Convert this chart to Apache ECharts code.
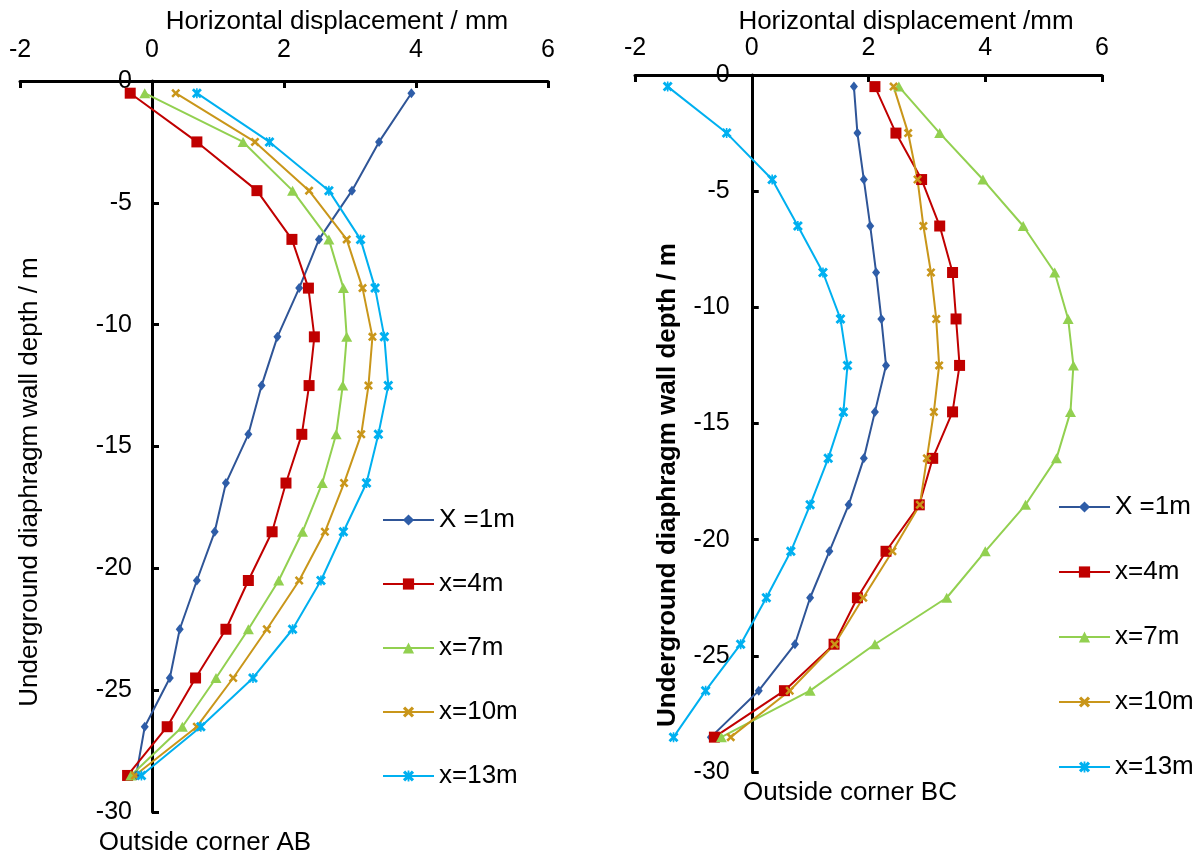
<!DOCTYPE html>
<html>
<head>
<meta charset="utf-8">
<script src="https://cdn.jsdelivr.net/npm/echarts@6/dist/echarts.min.js"></script>
<style>
html,body{margin:0;padding:0;background:#fff;}
#c{width:1200px;height:857px;}
</style>
</head>
<body>
<div id="c"></div>
<script>
// ---- Data ----
var depth = [-0.5,-2.5,-4.5,-6.5,-8.5,-10.5,-12.5,-14.5,-16.5,-18.5,-20.5,-22.5,-24.5,-26.5,-28.5];
var seriesNames = ['X =1m','x=4m','x=7m','x=10m','x=13m'];

// Outside corner AB
var ab_x1  = [3.93,3.44,3.03,2.53,2.23,1.90,1.66,1.46,1.12,0.95,0.68,0.42,0.27,-0.11,-0.24];
var ab_x4  = [-0.33,0.68,1.59,2.12,2.37,2.46,2.38,2.27,2.03,1.82,1.46,1.12,0.66,0.23,-0.37];
var ab_x7  = [-0.11,1.38,2.13,2.68,2.90,2.95,2.89,2.79,2.58,2.28,1.92,1.46,0.97,0.46,-0.32];
var ab_x10 = [0.36,1.56,2.38,2.95,3.19,3.34,3.28,3.17,2.91,2.62,2.23,1.74,1.23,0.68,-0.26];
var ab_x13 = [0.68,1.78,2.68,3.16,3.38,3.52,3.58,3.43,3.25,2.90,2.56,2.13,1.53,0.74,-0.16];

// Outside corner BC
var bc_x1  = [1.75,1.81,1.92,2.03,2.13,2.22,2.30,2.11,1.92,1.66,1.33,1.00,0.74,0.12,-0.70];
var bc_x4  = [2.11,2.47,2.91,3.22,3.44,3.50,3.56,3.44,3.10,2.87,2.30,1.81,1.41,0.56,-0.64];
var bc_x7  = [2.52,3.22,3.96,4.65,5.19,5.42,5.51,5.46,5.22,4.69,4.00,3.34,2.11,1.00,-0.52];
var bc_x10 = [2.43,2.68,2.84,2.94,3.07,3.16,3.21,3.12,3.00,2.88,2.41,1.91,1.42,0.65,-0.36];
var bc_x13 = [-1.44,-0.43,0.35,0.79,1.22,1.52,1.64,1.57,1.31,1.00,0.67,0.25,-0.19,-0.79,-1.34];

var xTicks = [-2,0,2,4,6];
var yTicks = [0,-5,-10,-15,-20,-25,-30];

// ---- Styles ----
var FONT = '"Liberation Sans", Arial, sans-serif';
var colors = ['#2F5597','#C00000','#92D050','#C9961A','#00B0F0'];
var markerColors = ['#2E5DA8','#C00000','#92D050','#C9961A','#00B0F0'];
var X_PATH = 'path://M2,0 L5,3 L8,0 L10,2 L7,5 L10,8 L8,10 L5,7 L2,10 L0,8 L3,5 L0,2 Z';
var AST_PATH = 'path://M2,0 L5,3 L8,0 L10,2 L7,5 L10,8 L8,10 L5,7 L2,10 L0,8 L3,5 L0,2 Z M4.2,0 L5.8,0 L5.8,10 L4.2,10 Z';
var symbols = ['diamond','rect','triangle',X_PATH,AST_PATH];
var symbolSizes = [[8,10],11,[11,10],9,10];

var grids = [
  {left: 20, top: 81, width: 528, height: 731, outerBoundsMode: 'none', containLabel: false},
  {left: 635, top: 75, width: 467, height: 697, outerBoundsMode: 'none', containLabel: false}
];

function pairs(xs){ return xs.map(function(v,i){ return [v, depth[i]]; }); }

function makeSeries(sets, gi){
  return sets.map(function(xs, i){
    return {
      name: seriesNames[i],
      type: 'line',
      xAxisIndex: gi, yAxisIndex: gi,
      data: pairs(xs),
      symbol: symbols[i],
      symbolSize: symbolSizes[i],
      showAllSymbol: true,
      lineStyle: {color: colors[i], width: 2},
      itemStyle: {color: markerColors[i], borderColor: markerColors[i], borderWidth: 0},
      emphasis: {disabled: true},
      animation: false,
      z: 3
    };
  });
}

function xAxis(gi, margin){
  return {
    gridIndex: gi, type: 'value', position: 'top',
    min: xTicks[0], max: xTicks[xTicks.length-1], interval: 2,
    axisLine: {show: true, onZero: false, lineStyle: {color: '#000', width: 3}},
    axisTick: {show: true, inside: true, length: 7, lineStyle: {color: '#000', width: 3}},
    axisLabel: {color: '#000', fontSize: 25, fontFamily: FONT, margin: margin},
    splitLine: {show: false}
  };
}
function yAxis(gi, margin){
  // place the vertical axis at x = 0 of the horizontal axis
  var g = grids[gi];
  var zeroOffset = -(0 - xTicks[0]) / (xTicks[xTicks.length-1] - xTicks[0]) * g.width;
  return {
    gridIndex: gi, type: 'value', position: 'left', offset: zeroOffset,
    min: yTicks[yTicks.length-1], max: yTicks[0], interval: 5,
    axisLine: {show: true, onZero: false, lineStyle: {color: '#000', width: 3}},
    axisTick: {show: true, inside: true, length: 7, lineStyle: {color: '#000', width: 3}},
    axisLabel: {color: '#000', fontSize: 25, fontFamily: FONT, margin: margin},
    splitLine: {show: false}
  };
}

function legend(left, top, gap){
  return {
    orient: 'vertical', left: left, top: top,
    itemWidth: 51, itemHeight: 14, itemGap: gap,
    textStyle: {fontSize: 26, fontFamily: FONT, color: '#000'},
    data: seriesNames,
    selectedMode: false
  };
}

var chart = echarts.init(document.getElementById('c'), null, {renderer: 'canvas'});
var option = {
  backgroundColor: '#fff',
  animation: false,
  grid: grids,
  xAxis: [xAxis(0, 18), xAxis(1, 14)],
  yAxis: [yAxis(0, 20), yAxis(1, 22)],
  legend: [legend(377, 502, 38), legend(1053, 489, 39)],
  series: makeSeries([ab_x1,ab_x4,ab_x7,ab_x10,ab_x13],0)
    .concat(makeSeries([bc_x1,bc_x4,bc_x7,bc_x10,bc_x13],1)),
  graphic: [
    {type:'text', x:337, y:22, style:{text:'Horizontal displacement / mm', fill:'#000', font:'26px '+FONT, textAlign:'center', textVerticalAlign:'middle'}},
    {type:'text', x:906, y:22, style:{text:'Horizontal displacement /mm', fill:'#000', font:'26px '+FONT, textAlign:'center', textVerticalAlign:'middle'}},
    {type:'text', x:30, y:482, rotation:Math.PI/2, style:{text:'Underground diaphragm wall depth / m', fill:'#000', font:'26px '+FONT, textAlign:'center', textVerticalAlign:'middle'}},
    {type:'text', x:668, y:485, rotation:Math.PI/2, style:{text:'Underground diaphragm wall depth / m', fill:'#000', font:'bold 26px '+FONT, textAlign:'center', textVerticalAlign:'middle'}},
    {type:'text', x:205, y:843, style:{text:'Outside corner AB', fill:'#000', font:'26px '+FONT, textAlign:'center', textVerticalAlign:'middle'}},
    {type:'text', x:850, y:793, style:{text:'Outside corner BC', fill:'#000', font:'26px '+FONT, textAlign:'center', textVerticalAlign:'middle'}}
  ]
};
chart.setOption(option);
</script>
</body>
</html>
